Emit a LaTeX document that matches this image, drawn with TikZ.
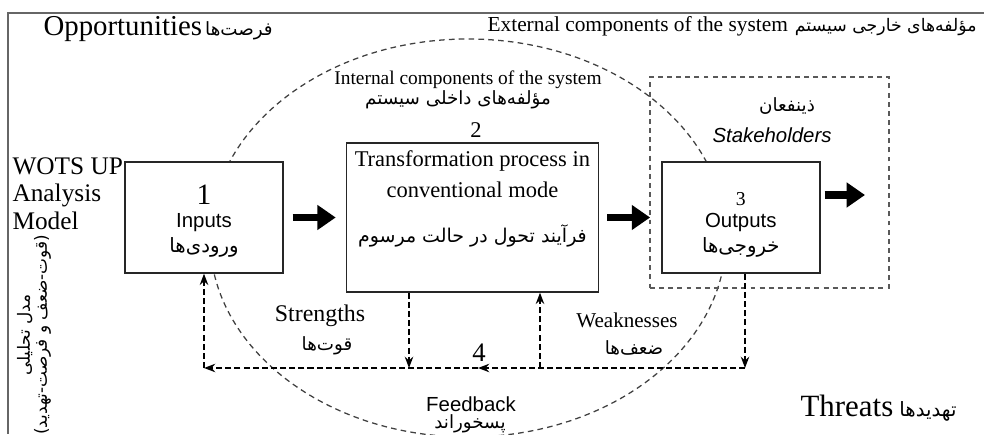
\documentclass[tikz,border=0pt]{standalone}
\usepackage{fontspec}
\setmainfont{Liberation Serif}
\setsansfont{Liberation Sans}
\newfontfamily\fafont[Script=Arabic]{DejaVu Sans}
\TeXXeTstate=1
\usetikzlibrary{arrows.meta}
\usetikzlibrary{positioning}

% font size in pt
\newcommand{\sz}[1]{\fontsize{#1}{#1}\selectfont}

\begin{document}
\begin{tikzpicture}[auto,thick,
	node distance=1.55cm,
	>={Stealth[length=8pt,width=6pt]},
	box/.style={draw=black!85,line width=1pt,fill=white,minimum width=3.95cm,minimum height=2.775cm,align=center,inner sep=0pt},
	bigbox/.style={box,minimum width=6.3cm,minimum height=3.725cm},
	fat/.style={line width=5.5pt,-{Triangle[length=13pt,width=17pt]}},
	fb/.style={line width=1.8pt,dash pattern=on 4.3pt off 2.2pt},
	lbl/.style={inner sep=0pt,align=center},
	fa/.style={lbl,font=\fafont\sz{#1}}]
	\useasboundingbox (0,0) rectangle (24.6,10.85);
	\draw[black!60,line width=1pt] (24.6,10.525) -- (0.2,10.525) -- (0.2,0);
	\draw[black!75,line width=0.9pt,dash pattern=on 4pt off 3pt] (11.7,4.9) ellipse [x radius=6.45cm,y radius=4.975cm];
	\node[draw=black!65,line width=1.3pt,dash pattern=on 3.5pt off 3pt,minimum width=5.975cm,minimum height=5.275cm] (stake) at (19.2375,6.2875) {};

	\node[box] (inp) at (5.1,5.4125) {{\sz{21}\rule{0pt}{19pt}1}\\[4pt]{\sffamily\sz{14.5}Inputs}\\[3pt]{\fafont\sz{14}\beginR ورودی^^^^200cها\endR}};
	\node[bigbox, right=of inp] (proc) {};
	\node[box, right=of proc] (outp) {{\sz{14}\rule{0pt}{20pt}3}\\[4pt]{\sffamily\sz{14.5}Outputs}\\[3pt]{\fafont\sz{14}\beginR خروجی^^^^200cها\endR}};
	\node[lbl, below=0.2cm of proc.north, font=\fontsize{16}{22}\selectfont] (proctxt) {Transformation process in\\conventional mode\\[10pt]{\fafont\sz{13.5}\beginR فرآیند تحول در حالت مرسوم\endR}};

	\coordinate (outtip) at (21.625,5.975);
	\path
	(inp)	edge [fat, shorten <=0.225cm, shorten >=0.25cm]	(proc)
	(proc)	edge [fat, shorten <=0.2cm, shorten >=0.275cm]	(outp)
	([yshift=0.5625cm]outp.east)	edge [fat, shorten <=0.1cm]	(outtip);

	% feedback loop
	\coordinate (fbR) at (18.625,1.65);
	\coordinate (fbM) at (11.95,1.65);
	\coordinate (fbL) at (inp.south |- fbR);
	\coordinate (sfoot) at (10.225,1.65);
	\coordinate (wfoot) at (13.5,1.65);
	\path[fb,->]
	(outp.south -| fbR)	edge	(fbR)
	(fbR)	edge	(fbM)
	(fbM)	edge	(fbL)
	(fbL)	edge	(inp.south)
	(proc.south -| sfoot)	edge	(sfoot)
	(wfoot)	edge	(proc.south -| wfoot);

	\node[lbl, anchor=base west, font=\sz{20.5}] (opp) at (1.075,9.95) {Opportunities};
	\node[fa=13, anchor=base west] (oppfa) at ([xshift=0.05cm]opp.base east) {\beginR فرصت^^^^200cها\endR};
	\node[lbl, anchor=base west, font=\sz{15.2}] (ext) at (12.175,10.05) {External components of the system};
	\node[fa=12.3, anchor=base west] (extfa) at ([xshift=0.15cm]ext.base east) {\beginR مؤلفه^^^^200cهای خارجی سیستم\endR};
	\node[lbl, font=\sz{13.8}] (int) at (11.7,8.85) {Internal components of the system};
	\node[fa=13] (intfa) at (11.45,8.35) {\beginR مؤلفه^^^^200cهای داخلی سیستم\endR};
	\node[lbl, font=\sz{16}] (two) at (11.9,7.6) {2};
	\node[fa=13] (stakefa) at (19.675,8.2) {\beginR ذینفعان\endR};
	\node[lbl, font=\sffamily\itshape\sz{14.5}] (stakeen) at (19.3,7.475) {Stakeholders};
	\node[lbl, anchor=north west, align=left, font=\fontsize{18}{19.5}\selectfont] (wots) at (0.3,6.925) {WOTS UP\\Analysis\\Model};
	\node[fa=12, rotate=90] (wotsfa) at (0.85,2.475) {\beginR مدل تحلیلی\endR\\\beginR (قوت-ضعف و فرصت-تهدید)\endR};
	\node[lbl, font=\sz{17}] (str) at (8.0,2.95) {Strengths};
	\node[fa=13] (strfa) at (8.175,2.2) {\beginR قوت^^^^200cها\endR};
	\node[lbl, font=\sz{15}] (weak) at (15.675,2.85) {Weaknesses};
	\node[fa=13] (weakfa) at (15.85,2.15) {\beginR ضعف^^^^200cها\endR};
	\node[lbl, font=\sz{19}] (four) at (11.975,2.025) {4};
	\node[lbl, font=\sffamily\sz{14.5}] (fback) at (11.775,0.75) {Feedback};
	\node[fa=13] (fbackfa) at (11.75,0.25) {\beginR پسخوراند\endR};
	\node[lbl, anchor=base west, font=\sz{22}] (thr) at (20.0,0.45) {Threats};
	\node[fa=14, anchor=base west] (thrfa) at ([xshift=0.125cm]thr.base east) {\beginR تهدیدها\endR};
\end{tikzpicture}
\end{document}
